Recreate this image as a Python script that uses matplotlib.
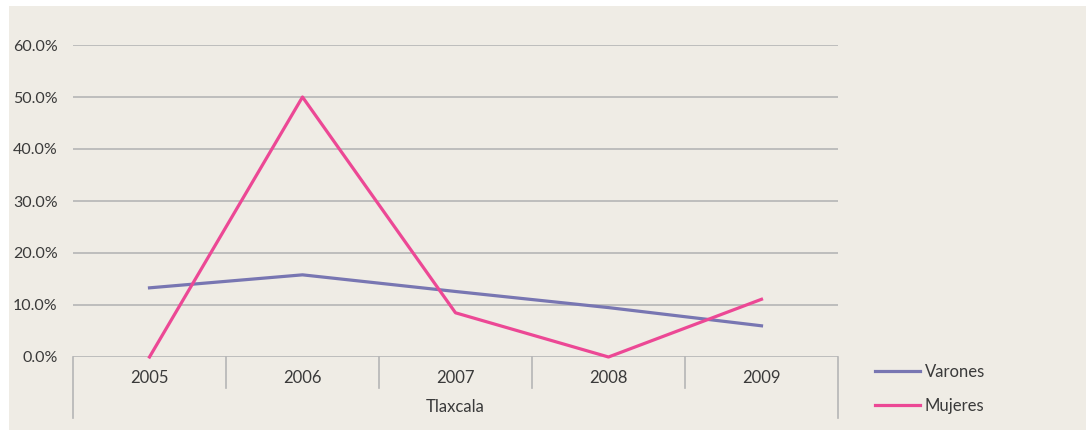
import matplotlib.pyplot as plt
from matplotlib.patches import Rectangle
import matplotlib.transforms as mtransforms

years = ['2005', '2006', '2007', '2008', '2009']
group = 'Tlaxcala'
varones = [13.3, 15.8, 12.6, 9.5, 6.0]
mujeres = [0.0, 50.0, 8.5, 0.0, 11.1]
yticks = [0, 10, 20, 30, 40, 50, 60]

plt.rcParams['font.family'] = ['Lato', 'DejaVu Sans']
text_color = '#3a3a3a'
grid_color = '#b5b5b5'
fs = 12

W, H = 1086, 432
fig = plt.figure(figsize=(W / 100, H / 100), dpi=100, facecolor='white')
fig.patches.append(Rectangle((9 / W, 2 / H), 1 - 9 / W, (H - 8) / H,
                             transform=fig.transFigure, facecolor='#efece5',
                             edgecolor='none', zorder=-10))

ax = fig.add_axes([73 / W, (H - 357) / H, 765 / W, 312 / H])
ax.set_facecolor('none')
x = range(len(years))
ax.plot(x, varones, color='#7876b2', lw=2.3, label='Varones', zorder=3, clip_on=False)
ax.plot(x, mujeres, color='#ec4895', lw=2.3, label='Mujeres', zorder=3, clip_on=False)

ax.set_xlim(-0.5, len(years) - 0.5)
ax.set_ylim(0, 60)
ax.set_yticks(yticks)
ax.set_yticklabels([f'{v:.1f}%' for v in yticks], color=text_color, fontsize=11.5)
ax.yaxis.grid(True, color=grid_color, lw=1.2)
ax.set_axisbelow(True)
ax.tick_params(axis='y', length=0, pad=11)
ax.set_xticks([])
for s in ax.spines.values():
    s.set_visible(False)

# category axis with separators
trans = mtransforms.blended_transform_factory(ax.transData, ax.transAxes)
for i in range(len(years) + 1):
    xp = i - 0.5
    bottom = -0.196 if i in (0, len(years)) else -0.099
    ax.plot([xp, xp], [0, bottom], color=grid_color, lw=1.2, transform=trans, clip_on=False)
for i, yr in enumerate(years):
    ax.text(i, -0.067, yr, transform=trans, ha='center', va='center',
            color=text_color, fontsize=fs)
ax.text((len(years) - 1) / 2, -0.16, group, transform=trans, ha='center', va='center',
        color=text_color, fontsize=fs)

fig.legend(loc='center left', bbox_to_anchor=(860 / W, 1 - 389 / H), frameon=False,
           fontsize=fs, handlelength=2.7, handletextpad=0.3, labelspacing=1.1,
           labelcolor=text_color)

fig.savefig('out.png', dpi=100, facecolor='white')
